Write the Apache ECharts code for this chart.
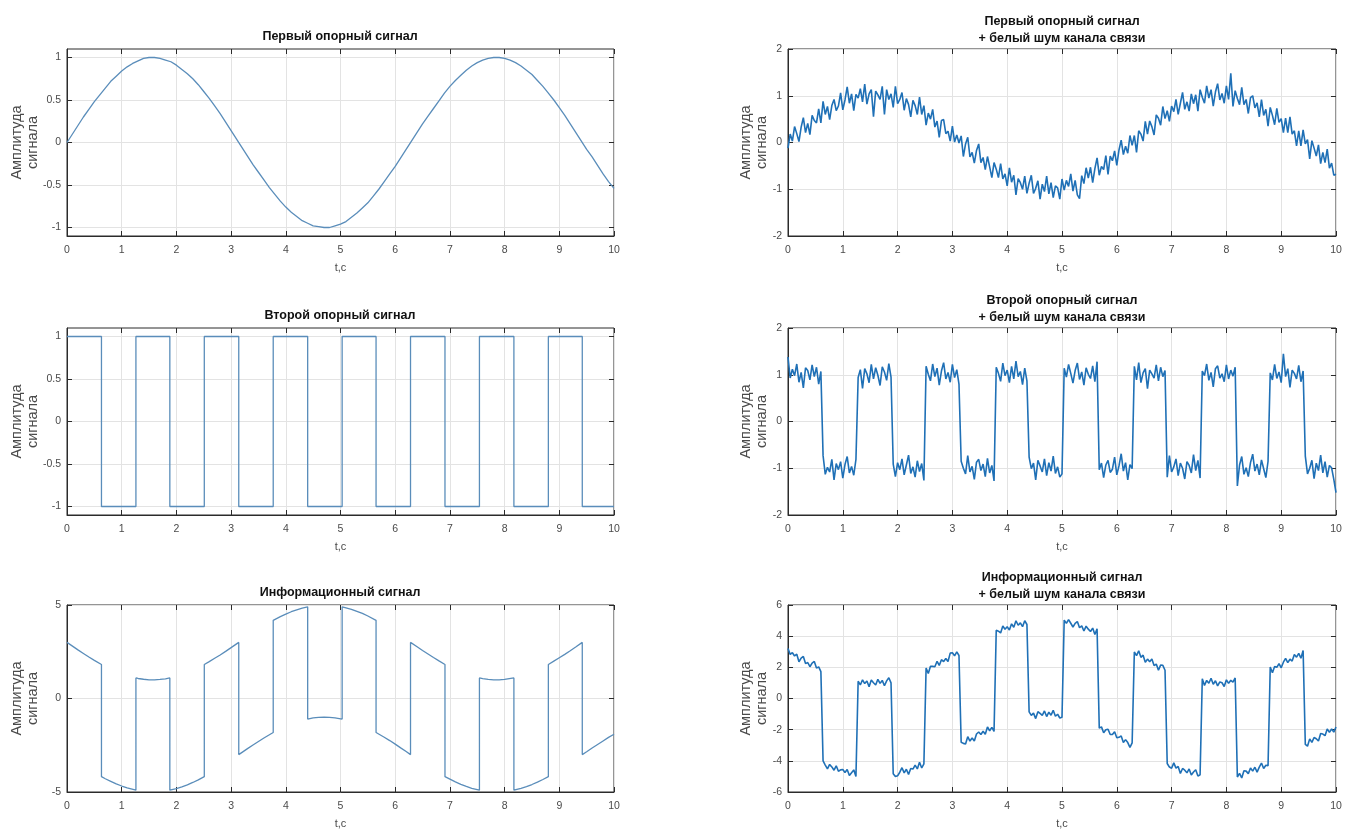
<!DOCTYPE html>
<html><head><meta charset="utf-8">
<script src="https://cdn.jsdelivr.net/npm/echarts@6/dist/echarts.min.js"></script>
<style>html,body{margin:0;padding:0;background:#fff}#c{width:1345px;height:833px}</style>
</head><body><div id="c"></div>
<script>
// ---------- data ----------
const xTicks = [0,1,2,3,4,5,6,7,8,9,10];
const yTicksUnit = [-1,-0.5,0,0.5,1];
const titlesLeft = ['Первый опорный сигнал','Второй опорный сигнал','Информационный сигнал'];
const titlesRight = ['Первый опорный сигнал\n+ белый шум канала связи','Второй опорный сигнал\n+ белый шум канала связи','Информационный сигнал\n+ белый шум канала связи'];
const yName = 'Амплитуда\nсигнала';
const xName = 't,c';

// sample step of the read-off series (s)
const dtClean = 0.1;
const dtNoisy = 0.04;

// first reference signal (clean), read every 0.1 s
const sineClean = [
0.00,0.10,0.20,0.30,0.39,0.48,0.56,0.64,0.72,0.78,
0.84,0.89,0.93,0.96,0.99,1.00,1.00,0.99,0.97,0.95,
0.91,0.86,0.81,0.75,0.68,0.60,0.52,0.43,0.34,0.24,
0.14,0.04,-0.06,-0.16,-0.26,-0.35,-0.44,-0.53,-0.61,-0.69,
-0.76,-0.82,-0.87,-0.92,-0.95,-0.98,-0.99,-1.00,-1.00,-0.98,
-0.96,-0.93,-0.88,-0.83,-0.77,-0.71,-0.63,-0.55,-0.46,-0.37,
-0.28,-0.18,-0.08,0.02,0.12,0.22,0.31,0.40,0.49,0.58,
0.66,0.73,0.79,0.85,0.90,0.94,0.97,0.99,1.00,1.00,
0.99,0.97,0.94,0.90,0.85,0.80,0.73,0.66,0.58,0.50,
0.41,0.32,0.22,0.12,0.02,-0.08,-0.17,-0.27,-0.37,-0.46,
-0.54];

// second reference signal (clean): switching instants and levels
const squareEdges = [0,0.63,1.26,1.88,2.51,3.14,3.77,4.40,5.03,5.65,6.28,6.91,7.54,8.17,8.80,9.42,10];
const squareLevels = [1,-1,1,-1,1,-1,1,-1,1,-1,1,-1,1,-1,1,-1,-1];

// information signal (clean): times and values (jumps repeat the time)
const infoT = [
0,0.1,0.2,0.3,0.4,0.5,0.63,
0.63,0.7,0.8,0.9,1.0,1.1,1.26,
1.26,1.3,1.4,1.5,1.6,1.7,1.8,1.88,
1.88,2.0,2.1,2.2,2.3,2.4,2.51,
2.51,2.6,2.7,2.8,2.9,3.0,3.14,
3.14,3.2,3.3,3.4,3.5,3.6,3.77,
3.77,3.9,4.0,4.1,4.2,4.3,4.40,
4.40,4.5,4.6,4.7,4.8,4.9,5.03,
5.03,5.1,5.2,5.3,5.4,5.5,5.65,
5.65,5.8,5.9,6.0,6.1,6.2,6.28,
6.28,6.4,6.5,6.6,6.7,6.8,6.91,
6.91,7.0,7.1,7.2,7.3,7.4,7.54,
7.54,7.6,7.7,7.8,7.9,8.0,8.17,
8.17,8.3,8.4,8.5,8.6,8.7,8.80,
8.80,8.9,9.0,9.1,9.2,9.3,9.42,
9.42,9.5,9.6,9.7,9.8,9.9,10.0];
const infoV = [
3.00,2.80,2.60,2.41,2.22,2.04,1.82,
-4.18,-4.29,-4.43,-4.57,-4.68,-4.78,-4.90,
1.10,1.07,1.03,1.00,1.00,1.02,1.05,1.10,
-4.90,-4.82,-4.73,-4.62,-4.49,-4.35,-4.18,
1.82,1.97,2.15,2.33,2.52,2.72,3.00,
-3.00,-2.88,-2.68,-2.49,-2.30,-2.11,-1.82,
4.18,4.38,4.51,4.64,4.74,4.83,4.90,
-1.10,-1.04,-1.01,-1.00,-1.01,-1.04,-1.10,
4.90,4.85,4.77,4.66,4.55,4.41,4.18,
-1.82,-2.07,-2.25,-2.44,-2.64,-2.83,-3.00,
3.00,2.77,2.57,2.38,2.19,2.01,1.82,
-4.18,-4.31,-4.46,-4.59,-4.70,-4.80,-4.90,
1.10,1.06,1.02,1.00,1.00,1.02,1.10,
-4.90,-4.80,-4.71,-4.60,-4.47,-4.33,-4.18,
1.82,2.00,2.18,2.36,2.55,2.75,3.00,
-3.00,-2.85,-2.65,-2.46,-2.27,-2.08,-1.91];

// noisy versions, read every 0.04 s
const sineNoisy = [
-0.12,0.18,0.03,0.34,0.19,0.02,0.33,0.53,0.21,0.41,0.17,0.58,0.47,0.42,0.72,0.42,0.88,0.60,0.77,0.49,0.79,0.92,0.68,0.78,1.06,
0.70,0.91,1.19,0.84,1.04,0.68,1.03,0.95,1.15,0.87,1.25,0.82,1.04,1.13,0.55,1.10,1.02,0.92,1.20,0.60,1.13,0.92,1.04,0.75,1.20,
0.83,0.92,1.07,0.69,0.94,0.81,0.55,0.90,0.79,0.60,0.97,0.60,0.79,0.37,0.63,0.50,0.71,0.33,0.46,0.11,0.47,0.49,0.19,0.24,0.03,
0.35,0.01,0.16,-0.01,0.14,-0.30,-0.03,0.11,-0.31,-0.21,-0.44,-0.17,-0.03,-0.43,-0.32,-0.58,-0.30,-0.52,-0.75,-0.43,-0.57,-0.75,-0.45,-0.78,-0.67,
-0.93,-0.54,-0.85,-0.70,-1.12,-0.77,-0.86,-1.00,-0.72,-1.09,-0.87,-0.70,-1.09,-0.98,-0.82,-1.21,-0.89,-1.05,-0.72,-1.10,-0.86,-1.18,-0.93,-0.97,-1.21,
-0.78,-1.02,-0.81,-0.94,-0.67,-1.04,-0.81,-1.12,-1.20,-0.71,-0.88,-0.54,-0.76,-0.53,-0.86,-0.56,-0.33,-0.70,-0.51,-0.58,-0.28,-0.68,-0.29,-0.39,-0.18,
-0.49,-0.16,0.05,-0.26,-0.08,-0.23,0.15,-0.06,0.15,-0.21,0.25,0.18,0.03,0.45,0.18,0.46,0.34,0.16,0.59,0.52,0.37,0.77,0.51,0.68,0.45,
0.78,0.66,0.92,0.60,0.84,1.07,0.71,0.87,0.67,1.04,0.83,1.02,0.67,1.13,0.97,0.84,1.21,0.95,1.13,0.78,1.08,1.26,0.91,1.05,0.84,
1.21,0.92,1.48,0.77,1.11,0.94,0.81,1.18,0.81,0.92,0.62,0.96,1.00,0.74,0.85,0.55,0.92,0.58,0.71,0.35,0.75,0.58,0.38,0.73,0.43,
0.51,0.21,0.52,0.21,0.55,0.18,0.25,-0.07,0.25,-0.07,0.27,-0.03,0.06,-0.35,0.04,-0.12,-0.29,-0.05,-0.45,-0.21,-0.43,-0.14,-0.55,-0.44,-0.70,
-0.68];

const squareNoisy = [
1.38,0.93,1.12,0.98,1.23,0.84,1.05,0.72,1.15,1.09,0.89,1.21,0.96,1.16,0.80,1.07,-0.73,-1.13,-0.98,-1.08,-0.81,-1.25,-0.90,-1.03,-0.86,
-1.21,-0.92,-0.75,-1.10,-0.96,-1.15,-0.81,0.94,1.11,0.71,1.13,1.02,0.83,1.22,0.91,1.15,0.99,0.77,1.17,1.06,0.88,1.24,0.95,-0.91,-1.18,
-0.88,-1.03,-0.80,-1.14,-0.93,-0.72,-1.11,-0.97,-1.19,-0.84,-1.07,-0.90,-1.26,1.18,1.01,0.87,1.23,0.96,1.14,0.78,1.08,1.26,0.91,1.05,0.84,
1.22,0.94,1.11,0.80,-0.85,-1.00,-1.12,-0.73,-1.08,-0.96,-1.24,-0.87,-0.81,-1.05,-0.91,-1.18,-0.79,-1.10,-0.94,-1.27,1.16,1.03,0.86,1.25,0.98,
1.10,0.83,1.18,0.91,1.29,0.96,1.07,0.79,1.14,0.87,-0.76,-1.01,-0.89,-1.25,-0.83,-0.95,-1.08,-0.80,-1.16,-0.88,-1.06,-0.74,-1.11,-0.97,-1.19,
-1.12,1.14,0.95,1.22,1.03,0.82,1.09,1.25,0.90,1.06,0.78,1.15,1.01,0.92,1.19,0.85,1.28,-1.03,-0.89,-1.20,-0.93,-0.83,-1.09,-1.02,-0.76,
-1.14,-0.95,-0.69,-1.06,-0.88,-1.25,-0.92,-1.01,1.18,0.89,1.26,0.83,1.04,1.13,0.70,1.10,1.02,0.93,1.21,0.87,1.16,0.96,1.09,-1.19,-0.73,
-1.08,-0.97,-0.80,-1.16,-0.89,-1.00,-1.23,-0.86,-0.94,-1.10,-0.71,-1.05,-0.83,-1.21,1.08,0.98,1.23,0.88,1.05,0.74,1.13,1.19,0.93,1.02,0.85,
1.21,0.91,1.10,0.97,1.16,-1.38,-0.93,-0.75,-1.13,-0.99,-1.18,-0.88,-0.70,-1.06,-0.91,-1.14,-0.82,-1.01,-1.20,-0.85,1.04,0.89,1.22,0.92,1.06,
0.83,1.45,0.96,1.13,0.73,1.10,1.03,0.91,1.20,0.85,1.08,-0.74,-1.12,-1.00,-0.83,-1.22,-0.89,-1.05,-0.72,-1.10,-0.86,-1.19,-0.94,-0.99,-1.24,
-1.52];

const infoNoisy = [
3.21,2.83,2.94,2.73,2.84,2.36,2.59,2.70,2.24,2.31,2.04,2.27,2.38,1.95,2.03,1.73,-4.01,-4.27,-4.52,-4.23,-4.39,-4.60,-4.32,-4.67,-4.58,
-4.56,-4.75,-4.56,-4.94,-4.76,-4.58,-5.00,1.11,0.87,1.20,0.96,1.12,0.75,1.18,1.01,0.87,1.23,0.97,1.16,0.82,1.13,1.33,1.00,-4.83,-5.01,
-4.96,-4.73,-4.44,-4.77,-4.54,-4.87,-4.49,-4.53,-4.28,-4.52,-4.09,-4.46,-4.19,1.96,1.60,2.07,2.06,2.04,2.39,2.12,2.49,2.37,2.57,2.37,2.91,
2.94,2.74,2.99,2.76,-2.81,-2.88,-2.92,-2.45,-2.73,-2.53,-2.73,-2.28,-2.15,-2.31,-2.10,-2.29,-1.83,-2.07,-1.85,-2.11,4.38,4.32,4.21,4.65,4.44,
4.61,4.39,4.79,4.57,4.99,4.70,4.85,4.61,4.99,4.75,-0.86,-1.08,-0.94,-1.29,-0.85,-0.96,-1.08,-0.80,-1.16,-0.88,-1.07,-0.76,-1.14,-1.01,-1.25,
-1.20,5.03,4.82,5.06,4.83,4.59,4.82,4.94,4.54,4.66,4.33,4.64,4.45,4.30,4.52,4.11,4.48,-1.90,-1.82,-2.20,-2.00,-1.97,-2.31,-2.31,-2.13,
-2.52,-2.49,-2.40,-2.83,-2.64,-2.83,-3.14,-2.85,2.99,2.75,3.06,2.64,2.78,2.32,2.53,2.36,2.53,2.11,2.21,1.82,2.14,2.13,1.81,-4.17,-4.40,
-4.48,-4.13,-4.47,-4.36,-4.81,-4.49,-4.60,-4.77,-4.52,-4.91,-4.72,-4.57,-4.98,-4.89,1.26,0.84,1.16,0.98,1.30,0.91,1.14,0.81,1.06,1.01,0.77,
1.20,0.97,1.17,1.05,1.32,-5.04,-4.80,-5.10,-4.64,-4.66,-4.82,-4.46,-4.66,-4.41,-4.72,-4.40,-4.14,-4.49,-4.28,-4.31,2.02,1.65,2.06,2.00,2.24,
1.97,2.33,2.57,2.30,2.52,2.40,2.82,2.65,2.90,2.58,3.08,-2.95,-3.06,-2.59,-2.82,-2.50,-2.58,-2.73,-2.25,-2.28,-2.39,-1.95,-2.17,-1.96,-2.16,
-1.83];

// ---------- build ----------
const FONT = '"Liberation Sans", Arial, sans-serif';
const withTime = (vals, dt) => vals.map((v, i) => [+(i * dt).toFixed(2), v]);
const pairs = (xs, ys) => xs.map((x, i) => [x, ys[i]]);

const layout = [
  {left: 67,  top: 49,  width: 547, height: 187},
  {left: 788, top: 49,  width: 548, height: 187},
  {left: 67,  top: 328, width: 547, height: 187},
  {left: 788, top: 328, width: 548, height: 187},
  {left: 67,  top: 605, width: 547, height: 187},
  {left: 788, top: 605, width: 548, height: 187}
];
const yRanges = [
  {min: -1.1, max: 1.1, ticks: yTicksUnit},
  {min: -2, max: 2, ticks: [-2,-1,0,1,2]},
  {min: -1.1, max: 1.1, ticks: yTicksUnit},
  {min: -2, max: 2, ticks: [-2,-1,0,1,2]},
  {min: -5, max: 5, ticks: [-5,0,5]},
  {min: -6, max: 6, ticks: [-6,-4,-2,0,2,4,6]}
];

const grid = layout.map(g => ({...g, show: true, borderColor: '#2b2b2b', borderWidth: 1, backgroundColor: '#fff'}));
const xAxis = [], yAxis = [];
const tickStyle = {inside: true, length: 5, lineStyle: {color: '#2b2b2b', width: 1}};
const splitStyle = {show: true, lineStyle: {color: '#e3e3e3', width: 1}};
layout.forEach((g, i) => {
  const isLeft = (i % 2 === 0);
  xAxis.push({
    type: 'value', gridIndex: i, min: 0, max: 10, position: 'bottom',
    axisLine: {show: true, onZero: false, lineStyle: {color: '#2b2b2b'}},
    axisTick: {...tickStyle, customValues: xTicks},
    axisLabel: {customValues: xTicks, color: '#4a4a4a', fontSize: 10.5, fontFamily: FONT, margin: 9},
    splitLine: splitStyle,
    name: xName, nameLocation: 'middle', nameGap: 26, nameMoveOverlap: false,
    nameTextStyle: {color: '#4a4a4a', fontSize: 11, fontFamily: FONT}
  });
  xAxis.push({
    type: 'value', gridIndex: i, min: 0, max: 10, position: 'top',
    axisLine: {show: false, onZero: false}, axisTick: {...tickStyle, customValues: xTicks},
    axisLabel: {show: false}, splitLine: {show: false}
  });
  const r = yRanges[i];
  yAxis.push({
    type: 'value', gridIndex: i, min: r.min, max: r.max, position: 'left',
    axisLine: {show: true, onZero: false, lineStyle: {color: '#2b2b2b'}},
    axisTick: {...tickStyle, customValues: r.ticks},
    axisLabel: {customValues: r.ticks, color: '#4a4a4a', fontSize: 10.5, fontFamily: FONT, margin: 6},
    splitLine: splitStyle,
    name: yName, nameLocation: 'middle', nameRotate: 90, nameGap: isLeft ? 26 : 18,
    nameMoveOverlap: false,
    nameTextStyle: {color: '#4a4a4a', fontSize: 14.5, fontFamily: FONT, lineHeight: 16}
  });
  yAxis.push({
    type: 'value', gridIndex: i, min: r.min, max: r.max, position: 'right',
    axisLine: {show: false, onZero: false}, axisTick: {...tickStyle, customValues: r.ticks},
    axisLabel: {show: false}, splitLine: {show: false}
  });
});

const cleanStyle = {color: '#5a8dba', width: 1.3};
const noisyStyle = {color: '#1f70b6', width: 1.6};
const mk = (i, data, style, extra) => Object.assign({
  type: 'line', xAxisIndex: 2 * i, yAxisIndex: 2 * i, data,
  showSymbol: false, symbol: 'none', lineStyle: style, itemStyle: {color: style.color},
  animation: false, silent: true, z: 3
}, extra || {});

const series = [
  mk(0, withTime(sineClean, dtClean), cleanStyle),
  mk(1, withTime(sineNoisy, dtNoisy), noisyStyle),
  mk(2, pairs(squareEdges, squareLevels), cleanStyle, {step: 'end'}),
  mk(3, withTime(squareNoisy, dtNoisy), noisyStyle),
  mk(4, pairs(infoT, infoV), cleanStyle),
  mk(5, withTime(infoNoisy, dtNoisy), noisyStyle)
];

const graphic = [];
const titleFont = 'bold 12.5px ' + FONT;
[37, 316, 593].forEach((y, r) => {
  graphic.push({type: 'text', x: 340, y: y, style: {text: titlesLeft[r], font: titleFont, fill: '#111', textAlign: 'center', textVerticalAlign: 'middle'}});
  graphic.push({type: 'text', x: 1062, y: y - 7, style: {text: titlesRight[r], font: titleFont, fill: '#111', textAlign: 'center', textVerticalAlign: 'middle', lineHeight: 17}});
});

const chart = echarts.init(document.getElementById('c'), null, {renderer: 'canvas'});
chart.setOption({animation: false, backgroundColor: '#fff', grid, xAxis, yAxis, series, graphic});
</script>
</body></html>
